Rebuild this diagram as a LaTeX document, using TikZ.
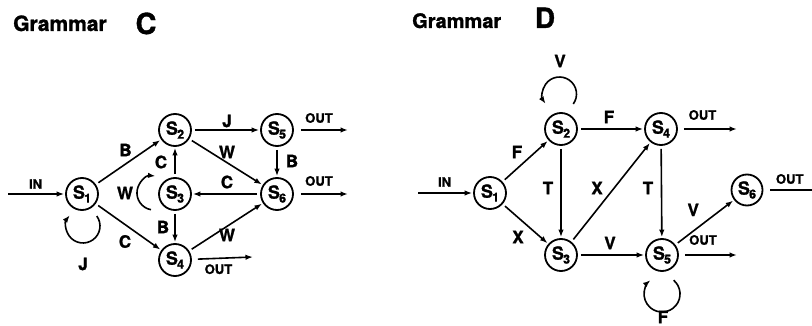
\documentclass[tikz,border=0pt]{standalone}
\usepackage{fontspec}
\setmainfont{TeX Gyre Heros}[BoldFeatures={FakeBold=1.2}]
\usetikzlibrary{arrows.meta,calc}
\newcommand{\stlab}[1]{\fontsize{18}{18}\selectfont\bfseries S\kern-0.8pt\raisebox{-4pt}{\fontsize{12.5}{12.5}\selectfont\bfseries #1}}
\begin{document}
\begin{tikzpicture}[x=1pt,y=1pt,
  state/.style={circle, draw, line width=1.8pt, minimum size=32pt, inner sep=0pt},
  arr/.style={line width=1.6pt, -{Latex[length=7.5pt,width=5.5pt]}, shorten <=3pt, shorten >=1pt},
  plain/.style={line width=1.6pt, shorten <=3pt},
  lab/.style={font=\fontsize{17}{17}\selectfont\bfseries, inner sep=0pt},
  io/.style={font=\fontsize{13}{13}\selectfont\bfseries, inner sep=0pt},
  title/.style={anchor=base west, inner sep=0pt, font=\fontsize{21}{21}\selectfont\bfseries},
  big/.style={anchor=base, inner sep=0pt, font=\fontsize{29}{29}\selectfont\bfseries}
]
\path[use as bounding box] (0,0) rectangle (812,-326);

% ---------------- Grammar C ----------------
\node[title] (ct) at (13,-31) {Grammar};
\node[big] (cc) at (146,-34) {C};

\node[state] (c1) at (82,-194) {\stlab{1}};
\node[state] (c2) at (175,-130) {\stlab{2}};
\node[state] (c3) at (175,-194) {\stlab{3}};
\node[state] (c4) at (175,-260) {\stlab{4}};
\node[state] (c5) at (277,-130) {\stlab{5}};
\node[state] (c6) at (277,-194) {\stlab{6}};

\coordinate (cin) at (8,-194);
\coordinate (c5o) at (348,-130);
\coordinate (c6o) at (348,-194);
\coordinate (c4o) at (253,-257);

\draw[arr, shorten <=0pt] (cin) -- node[io, xshift=-1pt, yshift=10pt] {IN} (c1);
\draw[arr] (c1) -- node[lab, xshift=-3pt, yshift=12pt] {B} (c2);
\draw[arr] (c1) -- node[lab, xshift=-3.5pt, yshift=-14.5pt] {C} (c4);
\draw[arr] (c2) -- node[lab, xshift=1pt, yshift=9pt] {J} (c5);
\draw[arr] (c2) -- node[lab, xshift=1pt, yshift=10pt] {W} (c6);
\draw[arr] (c5) -- node[lab, xshift=15pt, yshift=1pt] {B} (c6);
\draw[arr] (c6) -- node[lab, xshift=1pt, yshift=12pt] {C} (c3);
\draw[arr] (c3) -- node[lab, xshift=-14pt, yshift=0pt] {C} (c2);
\draw[arr] (c3) -- node[lab, xshift=-12pt, yshift=0pt] {B} (c4);
\draw[arr] (c4) -- node[lab, xshift=1pt, yshift=-8pt] {W} (c6);
\draw[arr, shorten <=7pt, shorten >=0pt] (c5) -- node[io, xshift=-2pt, yshift=12pt] {OUT} (c5o);
\draw[arr, shorten <=7pt, shorten >=0pt] (c6) -- node[io, xshift=-2pt, yshift=13pt] {OUT} (c6o);
\draw[arr, shorten <=6pt, shorten >=0pt] (c4) -- node[io, xshift=-4pt, yshift=-11pt] {OUT} (c4o);

% self loops
\draw[arr, shorten <=0pt, shorten >=0pt] ($(c1)+(14.75,-22)$) arc[start angle=36, end angle=-219, radius=17];
\node[lab] (cjl) at (83,-264) {J};
\draw[arr, shorten <=0pt, shorten >=0pt] ($(c3)+(-24,-15.7)$) arc[start angle=-100, end angle=-275, radius=17];
\node[lab] (cwl) at (125,-193) {W};

% ---------------- Grammar D ----------------
\node[title, font=\fontsize{20}{20}\selectfont\bfseries] (dt) at (412,-28) {Grammar};
\node[big, font=\fontsize{28}{28}\selectfont\bfseries] (dd) at (545,-28) {D};

\node[state] (d1) at (490,-193) {\stlab{1}};
\node[state] (d2) at (561,-129) {\stlab{2}};
\node[state] (d3) at (561,-255) {\stlab{3}};
\node[state] (d4) at (661,-129) {\stlab{4}};
\node[state] (d5) at (662,-255) {\stlab{5}};
\node[state, minimum size=31pt] (d6) at (747,-190) {\stlab{6}};

\coordinate (din) at (418,-193);
\coordinate (d4o) at (737,-129);
\coordinate (d5o) at (737,-255);
\coordinate (d6o) at (812,-190);

\draw[arr, shorten <=0pt] (din) -- node[io, xshift=-1pt, yshift=11pt] {IN} (d1);
\draw[arr] (d1) -- node[lab, xshift=-8.5pt, yshift=9pt] {F} (d2);
\draw[arr] (d1) -- node[lab, xshift=-7.5pt, yshift=-13pt] {X} (d3);
\draw[arr] (d2) -- node[lab, xshift=-2pt, yshift=12pt] {F} (d4);
\draw[arr] (d2) -- node[lab, xshift=-13pt, yshift=4pt] {T} (d3);
\draw[arr] (d3) -- node[lab, xshift=-14pt, yshift=4pt] {X} (d4);
\draw[arr] (d4) -- node[lab, xshift=-13.5pt, yshift=4pt] {T} (d5);
\draw[arr] (d3) -- node[lab, xshift=-1.5pt, yshift=12pt] {V} (d5);
\draw[arr] (d5) -- node[lab, xshift=-11.5pt, yshift=12.5pt] {V} (d6);
\draw[arr, shorten <=6pt, shorten >=0pt] (d4) -- node[io, xshift=-5pt, yshift=14pt] {OUT} (d4o);
\draw[arr, shorten <=6pt, shorten >=0pt] (d5) -- node[io, xshift=-5pt, yshift=15pt] {OUT} (d5o);
\draw[plain, shorten <=7pt] (d6) -- node[io, xshift=2pt, yshift=11pt] {OUT} (d6o);

% self loops
\draw[arr, shorten <=0pt, shorten >=0pt] ($(d2)+(12.25,25)$) arc[start angle=-36, end angle=215, radius=17];
\node[lab] (dvl) at (560,-61) {V};
\draw[arr, shorten <=0pt, shorten >=0pt] ($(d5)+(11.6,-25.2)$) arc[start angle=50, end angle=-230, radius=18];
\node[lab] (dfl) at (663,-317) {F};
\end{tikzpicture}
\end{document}
